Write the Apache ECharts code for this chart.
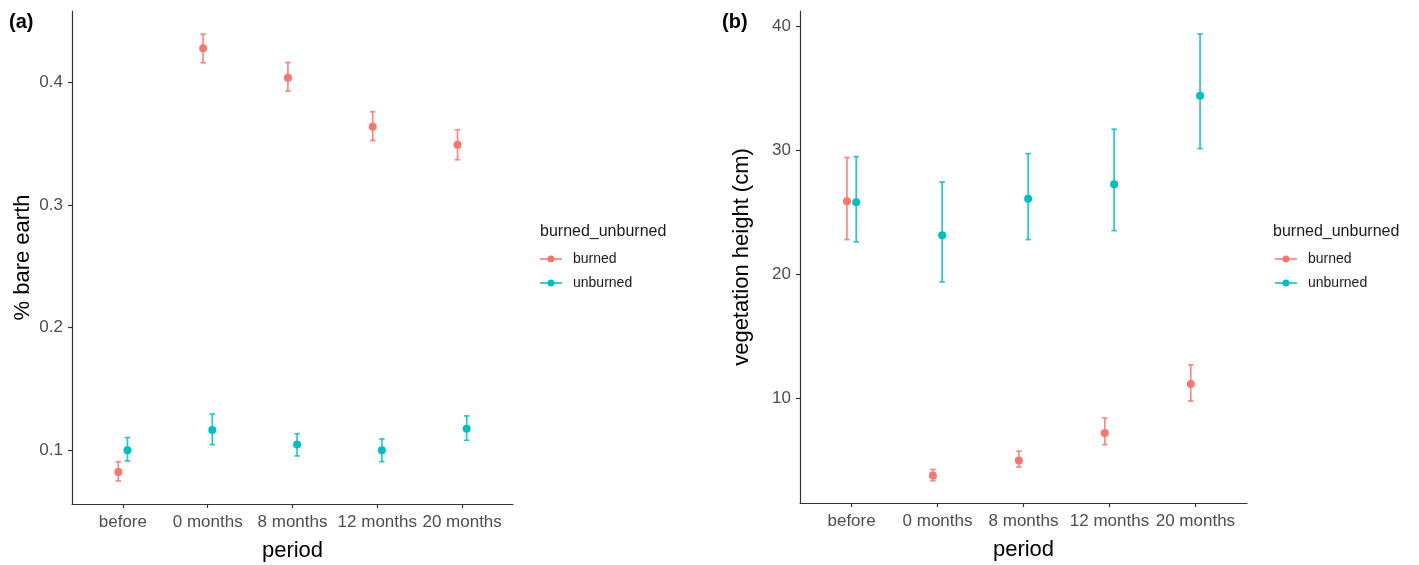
<!DOCTYPE html>
<html>
<head>
<meta charset="utf-8">
<script src="https://cdn.jsdelivr.net/npm/echarts@6/dist/echarts.min.js"></script>
<style>
  html, body { margin: 0; padding: 0; background: #fff; }
  #chart { width: 1419px; height: 565px; }
</style>
</head>
<body>
<div id="chart"></div>
<script>
// categories (x axis)
const periods = ['before', '0 months', '8 months', '12 months', '20 months'];

// (a) % bare earth : mean, lower, upper
const bareBurned     = [0.0823, 0.4277, 0.4036, 0.3636, 0.3490];
const bareBurnedLo   = [0.0750, 0.4158, 0.3927, 0.3525, 0.3368];
const bareBurnedHi   = [0.0907, 0.4391, 0.4160, 0.3759, 0.3612];
const bareUnburned   = [0.1000, 0.1165, 0.1046, 0.1000, 0.1176];
const bareUnburnedLo = [0.0913, 0.1046, 0.0954, 0.0907, 0.1081];
const bareUnburnedHi = [0.1103, 0.1296, 0.1135, 0.1092, 0.1280];
const bareTicks = [0.1, 0.2, 0.3, 0.4];

// (b) vegetation height (cm) : mean, lower, upper
const vegBurned     = [25.91, 3.82, 5.02, 7.23, 11.18];
const vegBurnedLo   = [22.82, 3.39, 4.49, 6.31, 9.81];
const vegBurnedHi   = [29.42, 4.30, 5.78, 8.44, 12.73];
const vegUnburned   = [25.83, 23.17, 26.10, 27.28, 34.41];
const vegUnburnedLo = [22.63, 19.41, 22.82, 23.54, 30.15];
const vegUnburnedHi = [29.50, 27.46, 29.74, 31.71, 39.38];
const vegTicks = [10, 20, 30, 40];

const RED = '#F8766D';
const CYAN = '#00BFC4';
const FONT = 'Liberation Sans, Arial, sans-serif';
const dodge = 0.054;
const catPos = periods.map((p, i) => i + 1);

function pts(vals, off) {
    return vals.map((v, i) => [catPos[i] + off, v]);
}
function bars(lo, hi, off) {
    return lo.map((l, i) => [catPos[i] + off, l, hi[i]]);
}

function errorBar(name, data, color, gi) {
    return {
        type: 'custom', name: name, xAxisIndex: gi, yAxisIndex: gi, data: data,
        z: 2,
        renderItem: (params, api) => {
            const a = api.coord([api.value(0), api.value(1)]);
            const b = api.coord([api.value(0), api.value(2)]);
            const hw = 2.7;
            const st = { stroke: color, lineWidth: 1.7, opacity: 0.85 };
            return {
                type: 'group',
                children: [
                    { type: 'line', shape: { x1: a[0], y1: a[1], x2: b[0], y2: b[1] }, style: st },
                    { type: 'line', shape: { x1: a[0] - hw, y1: a[1], x2: a[0] + hw, y2: a[1] }, style: st },
                    { type: 'line', shape: { x1: b[0] - hw, y1: b[1], x2: b[0] + hw, y2: b[1] }, style: st }
                ]
            };
        }
    };
}
function points(name, data, color, gi) {
    return {
        type: 'scatter', name: name, xAxisIndex: gi, yAxisIndex: gi, data: data,
        symbol: 'circle', symbolSize: 8, z: 3,
        itemStyle: { color: color, opacity: 1 }
    };
}

const axisLine = { show: true, lineStyle: { color: '#333333', width: 1.2 } };
const axisTick = { show: true, length: 4, lineStyle: { color: '#333333', width: 1.2 } };

function xAxis(gi) {
    return {
        type: 'value', gridIndex: gi, min: 0.4, max: 5.6,
        name: 'period', nameLocation: 'middle', nameGap: 36,
        nameTextStyle: { fontSize: 22, color: '#000', fontFamily: FONT },
        axisLine: axisLine,
        axisTick: Object.assign({ customValues: catPos }, axisTick),
        axisLabel: {
            customValues: catPos, margin: 10, fontSize: 17, color: '#4d4d4d', fontFamily: FONT,
            formatter: v => periods[Math.round(v) - 1]
        },
        splitLine: { show: false }
    };
}
function yAxis(gi, min, max, ticks, name, digits, gap) {
    return {
        type: 'value', gridIndex: gi, min: min, max: max,
        name: name, nameLocation: 'middle', nameGap: gap,
        nameTextStyle: { fontSize: 22, color: '#000', fontFamily: FONT },
        axisLine: axisLine,
        axisTick: Object.assign({ customValues: ticks }, axisTick),
        axisLabel: {
            customValues: ticks, margin: 9, fontSize: 17, color: '#4d4d4d', fontFamily: FONT,
            formatter: v => v.toFixed(digits)
        },
        splitLine: { show: false }
    };
}

const legendIcon = 'path://M0,2.8 L22,2.8 L22,4.2 L0,4.2 Z M11,0 A3.5,3.5 0 1 1 10.99,0 Z';
function legend(left) {
    return {
        orient: 'vertical', left: left, top: 247, itemWidth: 22, itemHeight: 7, itemGap: 10,
        textStyle: { fontSize: 14, color: '#1a1a1a', fontFamily: FONT, padding: [0, 0, 0, 6] },
        data: [
            { name: 'burned', icon: legendIcon, itemStyle: { color: RED } },
            { name: 'unburned', icon: legendIcon, itemStyle: { color: CYAN } }
        ]
    };
}

const chart = echarts.init(document.getElementById('chart'));
chart.setOption({
    animation: false,
    backgroundColor: '#ffffff',
    title: [
        { text: '(a)', left: 9, top: 12, padding: 0, textStyle: { fontSize: 20, fontWeight: 'bold', color: '#000', fontFamily: FONT } },
        { text: '(b)', left: 722, top: 12, padding: 0, textStyle: { fontSize: 20, fontWeight: 'bold', color: '#000', fontFamily: FONT } },
        { text: 'burned_unburned', left: 540, top: 224, padding: 0, textStyle: { fontSize: 16, fontWeight: 'normal', color: '#1a1a1a', fontFamily: FONT } },
        { text: 'burned_unburned', left: 1273, top: 224, padding: 0, textStyle: { fontSize: 16, fontWeight: 'normal', color: '#1a1a1a', fontFamily: FONT } }
    ],
    legend: [legend(535), legend(1270)],
    grid: [
        { left: 72, top: 11, width: 441, height: 493, outerBoundsMode: 'none' },
        { left: 800, top: 11, width: 447, height: 492, outerBoundsMode: 'none' }
    ],
    xAxis: [xAxis(0), xAxis(1)],
    yAxis: [
        yAxis(0, 0.0562, 0.458, bareTicks, '% bare earth', 1, 38),
        yAxis(1, 1.6, 41.23, vegTicks, 'vegetation height (cm)', 0, 47)
    ],
    series: [
        errorBar('burned', bars(bareBurnedLo, bareBurnedHi, -dodge), RED, 0),
        errorBar('unburned', bars(bareUnburnedLo, bareUnburnedHi, dodge), CYAN, 0),
        points('burned', pts(bareBurned, -dodge), RED, 0),
        points('unburned', pts(bareUnburned, dodge), CYAN, 0),
        errorBar('burned', bars(vegBurnedLo, vegBurnedHi, -dodge), RED, 1),
        errorBar('unburned', bars(vegUnburnedLo, vegUnburnedHi, dodge), CYAN, 1),
        points('burned', pts(vegBurned, -dodge), RED, 1),
        points('unburned', pts(vegUnburned, dodge), CYAN, 1)
    ]
});
</script>
</body>
</html>
